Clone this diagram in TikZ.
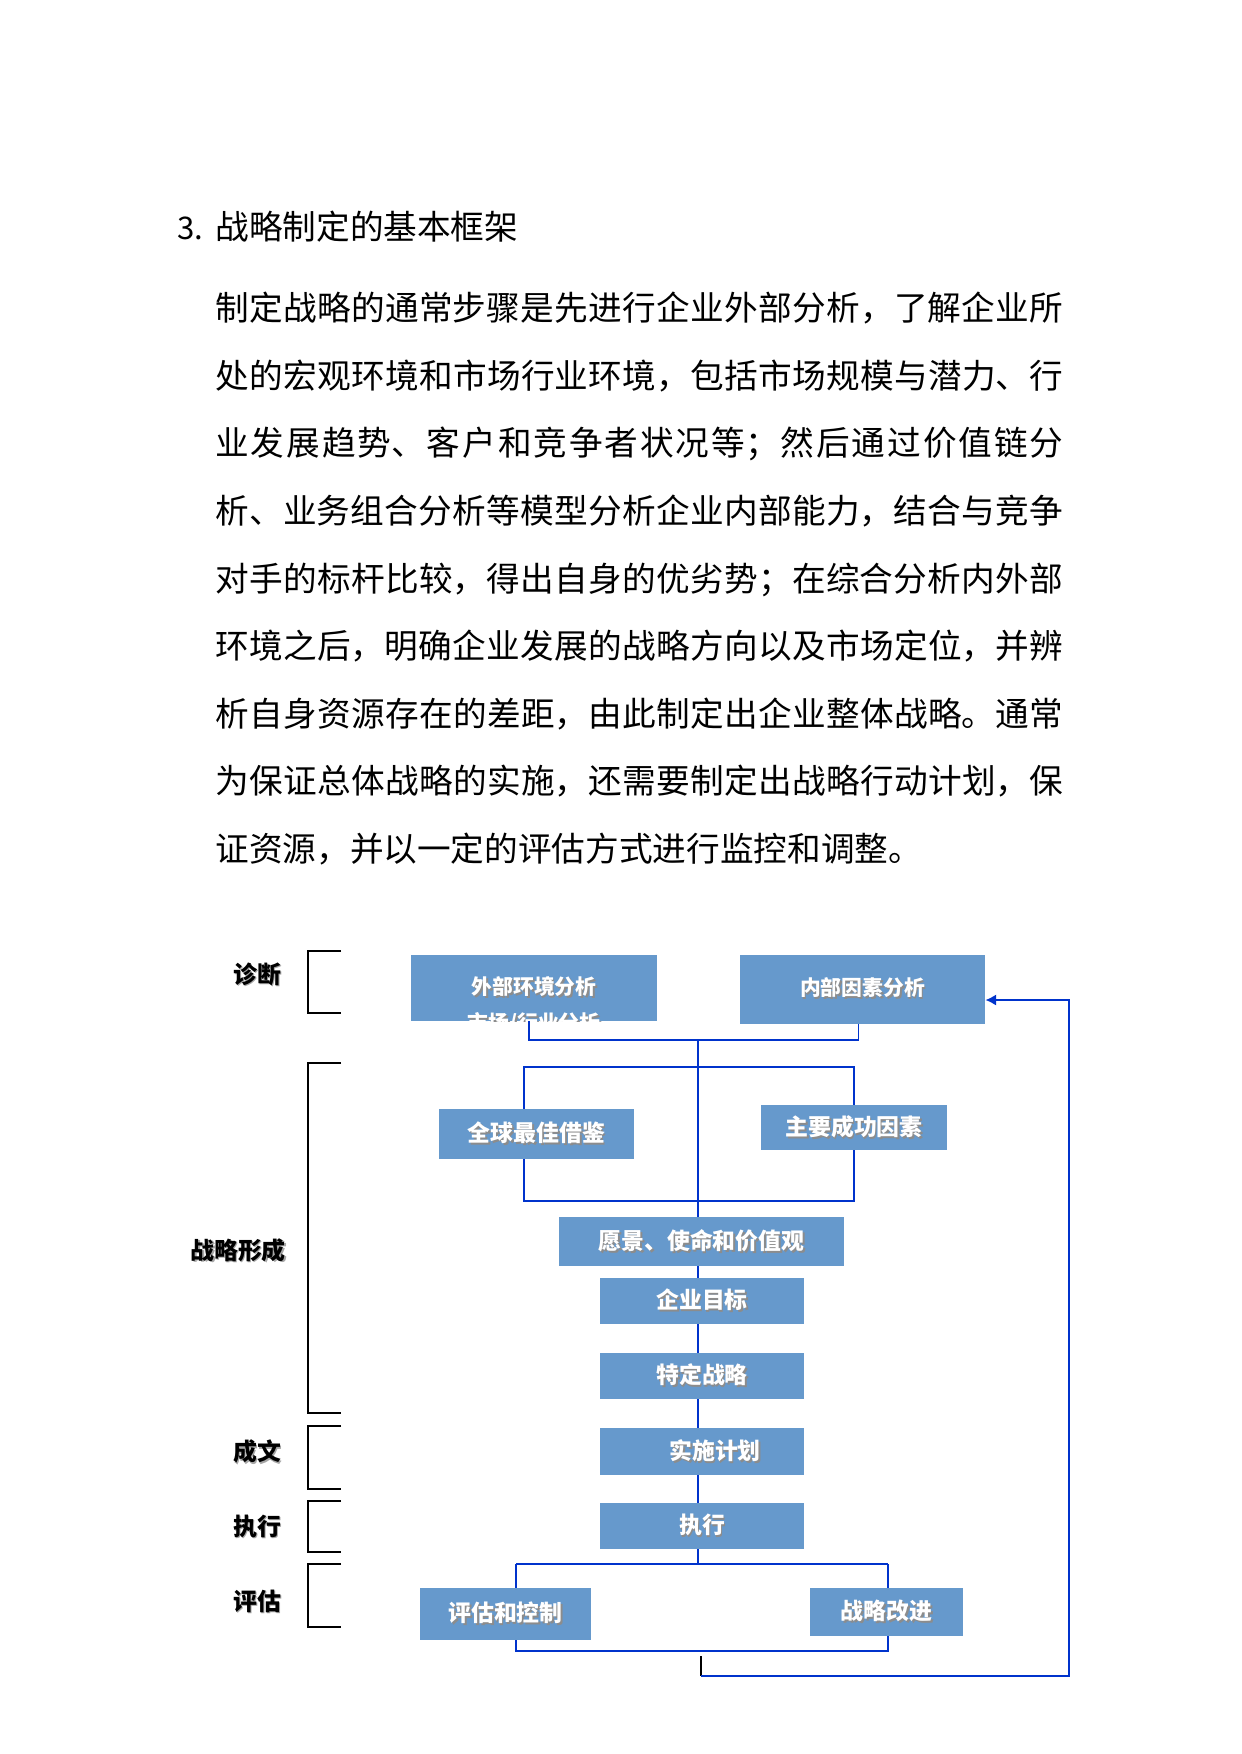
\documentclass[tikz,border=0pt]{standalone}
\usepackage{fontspec}
\setmainfont{Noto Sans CJK SC}
\usetikzlibrary{arrows.meta,calc,backgrounds}

\XeTeXlinebreaklocale "zh"
\XeTeXlinebreakskip=0pt plus 1pt

\newlength\pxu
\setlength\pxu{0.169218mm}
\definecolor{boxblue}{RGB}{102,153,204}
\definecolor{linkblue}{RGB}{0,51,204}
\newcommand{\boxfont}{\fontsize{11}{13}\selectfont\bfseries}
\newcommand{\smallbox}{\fontsize{10}{12}\selectfont\bfseries}
\newcommand{\sidefont}{\fontsize{11.5}{14}\selectfont\bfseries}
\newcommand{\shtxt}[2][black!45]{\makebox[0pt][l]{\hspace{0.3mm}\raisebox{-0.3mm}{\textcolor{#1}{#2}}}#2}

\begin{document}
\begin{tikzpicture}[x=0.169218mm, y=-0.169218mm, >={Latex[length=1.8mm,width=1.9mm]},
    bx/.style 2 args={fill=boxblue, minimum width=#1*\pxu, minimum height=#2*\pxu,
        inner sep=0pt, text=white, font=\boxfont},
    link/.style={draw=linkblue, line width=0.55pt},
    spine/.style={draw=linkblue, line width=0.9pt},
    brk/.style={line width=0.95pt},
    side/.style={font=\sidefont}]
    \useasboundingbox (0,0) rectangle (1241,1754);

    % 1. Tiêu đề và đoạn văn
    \node[anchor=base west, inner sep=0pt, font=\fontsize{15}{20}\selectfont] (num) at (177,240) {3.};
    \node[anchor=base west, inner sep=0pt, font=\fontsize{16.2}{20}\selectfont] (title) at (215,240) {战略制定的基本框架};
    \node[anchor=base west, inner sep=0pt, text width=143.5mm, align=justify,
        font=\fontsize{16.2}{32.5}\selectfont] (para) at (215,321)
        {制定战略的通常步骤是先进行企业外部分析，了解企业所\linebreak
         处的宏观环境和市场行业环境，包括市场规模与潜力、行\linebreak
         业发展趋势、客户和竞争者状况等；然后通过价值链分\linebreak
         析、业务组合分析等模型分析企业内部能力，结合与竞争\linebreak
         对手的标杆比较，得出自身的优劣势；在综合分析内外部\linebreak
         环境之后，明确企业发展的战略方向以及市场定位，并辨\linebreak
         析自身资源存在的差距，由此制定出企业整体战略。通常\linebreak
         为保证总体战略的实施，还需要制定出战略行动计划，保\linebreak
         证资源，并以一定的评估方式进行监控和调整。};

    % 2. Các khung
    \node[bx={246}{66}, font=\smallbox,
        path picture={\node[font=\smallbox, text=white] (extsub)
            at ($(path picture bounding box.center)+(0,36)$) {\shtxt{市场/行业分析}};}]
        (ext) at (534,988) {\raisebox{5\pxu}{\shtxt{外部环境分析}}};
    \node[bx={245}{69}, font=\smallbox] (int) at (862.5,989.5) {\raisebox{6\pxu}{\shtxt{内部因素分析}}};
    \node[bx={195}{50}] (glob) at (536.5,1134) {\shtxt{全球最佳借鉴}};
    \node[bx={186}{45}] (ksf) at (854,1127.5) {\shtxt{主要成功因素}};
    \node[bx={285}{49}] (vis) at (701.5,1241.5) {\shtxt{愿景、使命和价值观}};
    \node[bx={204}{46}] (goal) at (702,1301) {\shtxt{企业目标}};
    \node[bx={204}{46}] (strat) at (702,1376) {\shtxt{特定战略}};
    \node[bx={204}{47}] (plan) at (702,1451.5) {\hspace*{26\pxu}\shtxt{实施计划}};
    \node[bx={204}{46}] (exe) at (702,1526) {\shtxt{执行}};
    \node[bx={171}{52}] (eval) at (505.5,1614) {\shtxt{评估和控制}};
    \node[bx={153}{48}] (impr) at (886.5,1612) {\shtxt{战略改进}};

    % 3. Các đường nối
    \coordinate (top) at (698,1040);
    \coordinate (fork) at (698,1067);
    \coordinate (lt) at (524,1067);
    \coordinate (rb) at (854,1201);
    \coordinate (split) at (698,1564);
    \coordinate (el) at (516,1564);
    \coordinate (er) at (888,1564);
    \coordinate (bl) at (516,1651);
    \coordinate (br) at (888,1651);
    \coordinate (back) at (701,1656);
    \coordinate (turn) at (701,1676);
    \coordinate (far) at (1069,1676);
    \coordinate (up) at (1069,1000);
    \begin{scope}[on background layer]
        \draw[link] (lt) rectangle (rb);
    \end{scope}
    \draw[link] ([xshift=-5\pxu]ext.south) |- (top) -| ([xshift=-4\pxu]int.south);
    \draw[link] (top) -- (fork);
    \draw[spine] (fork) -- (fork |- vis.north);
    \draw[spine] (vis.south -| fork) -- (fork |- goal.north);
    \draw[spine] (goal.south -| fork) -- (fork |- strat.north);
    \draw[link] (strat.south -| fork) -- (fork |- plan.north);
    \draw[link] (plan.south -| fork) -- (fork |- exe.north);
    \draw[link] (exe.south -| fork) -- (split);
    \draw[spine] (el) -- (er);
    \draw[link] (el) -- (el |- eval.north);
    \draw[link] (er) -- (er |- impr.north);
    \draw[link] (el |- eval.south) -- (bl) -- (br) -- (br |- impr.south);
    \draw[brk] (back) -- (turn);
    \draw[spine, ->] (turn) -- (far) -- (up) -- (up -| int.east);

    % 4. Nhãn bên trái
    \node[side] (diag) at (257,975) {\shtxt[black!35]{诊断}};
    \node[side] (form) at (238,1251) {\shtxt[black!35]{战略形成}};
    \node[side] (doc) at (257,1452) {\shtxt[black!35]{成文}};
    \node[side] (run) at (257,1527) {\shtxt[black!35]{执行}};
    \node[side] (asses) at (257,1602) {\shtxt[black!35]{评估}};
    \draw[brk] (341,951) -| (308,1013) -- (341,1013);
    \draw[brk] (341,1063) -| (308,1413) -- (341,1413);
    \draw[brk] (341,1426) -| (308,1489) -- (341,1489);
    \draw[brk] (341,1501) -| (308,1552) -- (341,1552);
    \draw[brk] (341,1564) -| (308,1627) -- (341,1627);
\end{tikzpicture}
\end{document}
